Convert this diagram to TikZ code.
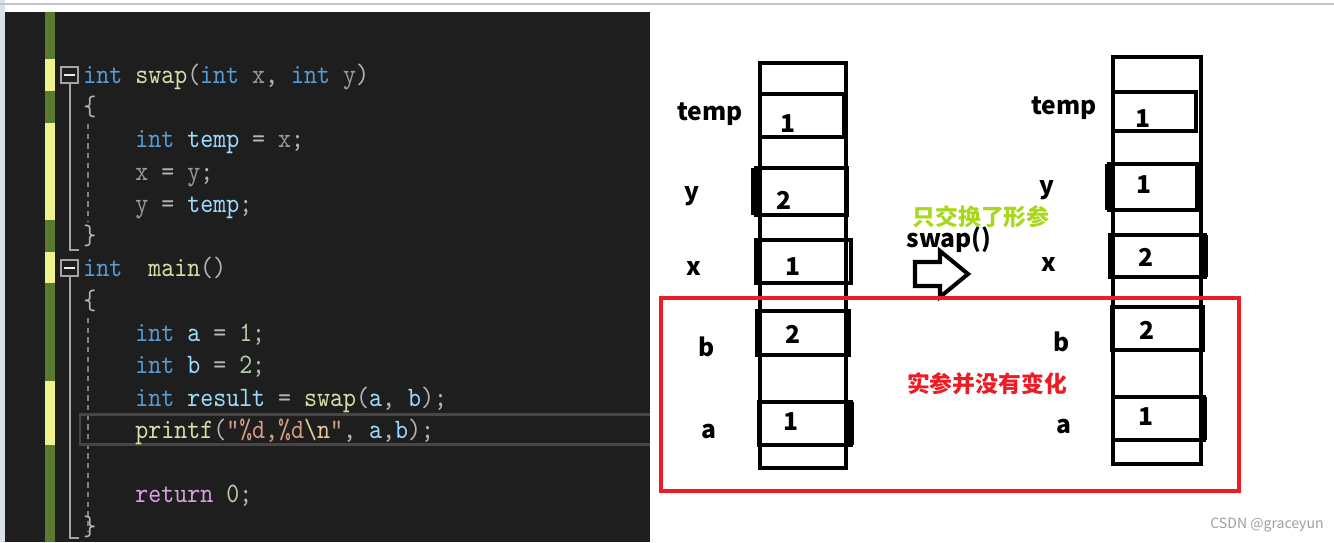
\documentclass[tikz,border=0pt]{standalone}
\usepackage{fontspec}
\usepackage{tikz}
\newfontfamily\cjk{Noto Sans CJK SC}
\newfontfamily\codefont{lmmono10-regular}[Extension=.otf, FakeStretch=0.88]

\definecolor{editor}{HTML}{1E1E1E}
\definecolor{mgreen}{HTML}{5A7A2D}
\definecolor{myellow}{HTML}{EEF28C}
\definecolor{foldgray}{HTML}{A5A5A5}
\definecolor{guidegray}{HTML}{808080}
\definecolor{curgray}{HTML}{464646}
\definecolor{edgeblue}{HTML}{DCE0EB}
\definecolor{kwblue}{HTML}{569CD6}
\definecolor{fnyellow}{HTML}{DCDCAA}
\definecolor{pargray}{HTML}{9A9A9A}
\definecolor{varblue}{HTML}{9CDCFE}
\definecolor{numgreen}{HTML}{B5CEA8}
\definecolor{punc}{HTML}{B4B4B4}
\definecolor{strorange}{HTML}{D69D85}
\definecolor{escyellow}{HTML}{E8C89A}
\definecolor{retpink}{HTML}{D8A0DF}
\definecolor{paintred}{HTML}{ED1C24}
\definecolor{paintlime}{HTML}{A8D81A}
\definecolor{markgray}{HTML}{A0A0A0}

% token colours of the editor
\newcommand\ckw[1]{\textcolor{kwblue}{#1}}
\newcommand\cfn[1]{\textcolor{fnyellow}{#1}}
\newcommand\cpa[1]{\textcolor{pargray}{#1}}
\newcommand\cvr[1]{\textcolor{varblue}{#1}}
\newcommand\cnm[1]{\textcolor{numgreen}{#1}}
\newcommand\cst[1]{\textcolor{strorange}{#1}}
\newcommand\cesc[1]{\textcolor{escyellow}{#1}}
\newcommand\cret[1]{\textcolor{retpink}{#1}}

\tikzset{
  code/.style={anchor=base west, inner sep=0pt, text=punc, font=\codefont\fontsize{16}{16}\selectfont},
  lbl/.style={inner sep=0pt, font=\cjk\bfseries\fontsize{14}{14}\selectfont},
  cell/.style={draw=black, line width=2.3pt},
  fold/.style={draw=foldgray, line width=0.9pt},
  guide/.style={draw=guidegray, line width=0.8pt, dash pattern=on 3pt off 2.5pt},
}

\begin{document}
\begin{tikzpicture}[x=0.02cm, y=-0.02cm, line join=miter]
  \useasboundingbox (0,0) rectangle (1334,542);
  \fill[white] (0,0) rectangle (1334,542);

  % Window edge and editor background
  \fill[edgeblue] (0,0) rectangle (5,542);
  \draw[edgeblue!70!gray, line width=0.8pt] (0,4) -- (1334,4);
  \fill[editor] (5,12) rectangle (650,542);

  % Change margin
  \fill[mgreen] (45,12) rectangle (55,542);
  \foreach \ya/\yb in {59/91,123/220,252/283,381/445}
    \fill[myellow] (45,\ya) rectangle (55,\yb);

  % Fold boxes, outline and indent guides
  \foreach \yy in {67,260} {
    \draw[fold, fill=editor] (61,\yy) rectangle (78,\yy+16);
    \draw[draw=white!85!gray, line width=1.2pt] (64,\yy+8) -- (75,\yy+8);
  }
  \draw[fold] (70,83) -- (70,250) -- (79,250);
  \draw[fold] (70,276) -- (70,538) -- (79,538);
  \draw[guide] (88,124) -- (88,222);
  \draw[guide] (88,318) -- (88,532);

  % Current line
  \draw[curgray, line width=1.7pt] (650,414) -- (80,414) -- (80,444) -- (650,444);

  % Source lines
  \node[code] (l0)  at (83,83)   {\ckw{int} \cfn{swap}(\ckw{int} \cpa{x}, \ckw{int} \cpa{y})};
  \node[code] (l1)  at (83,115)  {\{};
  \node[code] (l2)  at (135,147) {\ckw{int} \cvr{temp} = \cpa{x};};
  \node[code] (l3)  at (135,180) {\cpa{x} = \cpa{y};};
  \node[code] (l4)  at (135,212) {\cpa{y} = \cvr{temp};};
  \node[code] (l5)  at (83,244)  {\}};
  \node[code] (l6)  at (83,276)  {\ckw{int}\ \ \cfn{main}()};
  \node[code] (l7)  at (83,309)  {\{};
  \node[code] (l8)  at (135,341) {\ckw{int} \cvr{a} = \cnm{1};};
  \node[code] (l9)  at (135,373) {\ckw{int} \cvr{b} = \cnm{2};};
  \node[code] (l10) at (135,406) {\ckw{int} \cvr{result} = \cfn{swap}(\cvr{a}, \cvr{b});};
  \node[code] (l11) at (135,438) {\cfn{printf}(\cst{”\%d,\%d}\cesc{\textbackslash n}\cst{”}, \cvr{a},\cvr{b});};
  \node[code] (l12) at (135,502) {\cret{return} \cnm{0};};
  \node[code] (l13) at (83,535)  {\}};

  % Stack before the call
  \draw[cell] (760,63) rectangle (846,468);
  \draw[cell] (760,94) rectangle (844,137);
  \draw[cell] (756,168) rectangle (847,215);
  \draw[cell] (756,240) rectangle (851,283);
  \draw[cell] (757,311) rectangle (849,355);
  \draw[cell] (759,402) rectangle (851,445);
  \draw[line width=4pt] (755,168) -- (755,215);
  \draw[line width=4pt] (850,402) -- (850,445);

  \node[lbl] (tmpA) at (710,114) {temp};
  \node[lbl] (yA)   at (692,196) {y};
  \node[lbl] (xA)   at (694,268) {x};
  \node[lbl] (bA)   at (707,347) {b};
  \node[lbl] (aA)   at (709,431) {a};
  \node[lbl] (tmpvA) at (788,124) {1};
  \node[lbl] (yvA)   at (784,200) {2};
  \node[lbl] (xvA)   at (793,267) {1};
  \node[lbl] (bvA)   at (793,334) {2};
  \node[lbl] (avA)   at (791,422) {1};

  % Stack after swap()
  \draw[cell] (1113,57) rectangle (1201,464);
  \draw[cell] (1113,92) rectangle (1196,131);
  \draw[cell] (1109,164) rectangle (1197,210);
  \draw[cell] (1110,235) rectangle (1205,277);
  \draw[cell] (1112,307) rectangle (1203,350);
  \draw[cell] (1113,397) rectangle (1204,440);
  \draw[line width=4pt] (1108,164) -- (1108,210);
  \draw[line width=4pt] (1204,235) -- (1204,277);
  \draw[line width=4pt] (1203,397) -- (1203,440);

  \node[lbl] (tmpB) at (1064,108) {temp};
  \node[lbl] (yB)   at (1047,190) {y};
  \node[lbl] (xB)   at (1049,264) {x};
  \node[lbl] (bB)   at (1062,342) {b};
  \node[lbl] (aB)   at (1064,426) {a};
  \node[lbl] (tmpvB) at (1143,119) {1};
  \node[lbl] (yvB)   at (1144,185) {1};
  \node[lbl] (xvB)   at (1146,257) {2};
  \node[lbl] (bvB)   at (1147,330) {2};
  \node[lbl] (avB)   at (1146,417) {1};

  % Call arrow and notes
  \node[lbl, text=paintlime, font=\cjk\bfseries\fontsize{13}{13}\selectfont] (onlyfp) at (981,217) {只交换了形参};
  \node[lbl] (call) at (949,240) {swap()};
  \draw[cell] (915,262) -- (940,262) -- (940,251) -- (968,274) -- (940,297)
    -- (940,286) -- (915,286) -- cycle;

  % Actual parameters
  \draw[paintred, line width=2.3pt] (661,298) rectangle (1239,491);
  \node[lbl, text=paintred, font=\cjk\bfseries\fontsize{13}{13}\selectfont] (noch) at (987,384) {实参并没有变化};

  \node[inner sep=0pt, text=markgray, font=\cjk\fontsize{8}{8}\selectfont] (mark) at (1267,525) {CSDN @graceyun};
\end{tikzpicture}
\end{document}
